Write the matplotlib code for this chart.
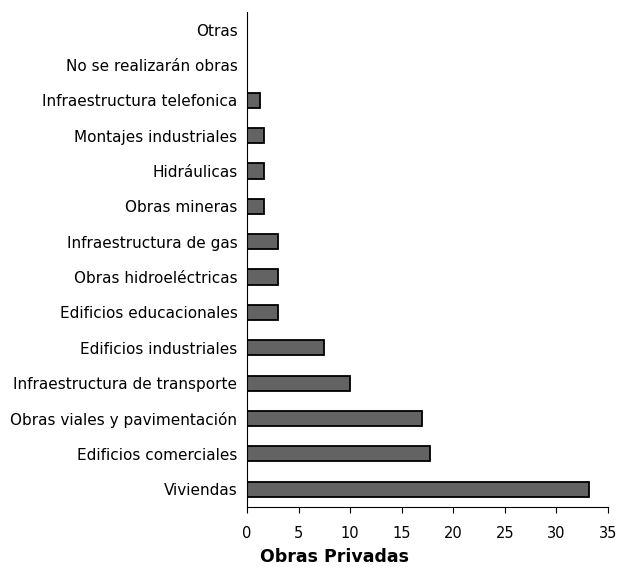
import numpy as np
import matplotlib.pyplot as plt

categorias = ["Viviendas", "Edificios comerciales", "Obras viales y pavimentación",
              "Infraestructura de transporte", "Edificios industriales",
              "Edificios educacionales", "Obras hidroeléctricas",
              "Infraestructura de gas", "Obras mineras", "Hidráulicas",
              "Montajes industriales", "Infraestructura telefonica",
              "No se realizarán obras", "Otras"]
valores = [33.2, 17.7, 17.0, 10.0, 7.5, 3.0, 3.0, 3.0, 1.6, 1.6, 1.6, 1.2, 0, 0]

plt.rcParams['font.family'] = ['DejaVu Sans']

fig = plt.figure(figsize=(6.21, 5.67), dpi=100)
ax = fig.add_axes([0.398, 0.106, 0.581, 0.873])

y = np.arange(len(categorias))
ax.barh(y, valores, height=0.43, color="#636363", edgecolor="black", linewidth=1.3)

ax.set_yticks(y)
ax.set_yticklabels(categorias, fontsize=11)
ax.tick_params(axis='y', length=0, pad=7)
ax.set_ylim(-0.5, len(categorias) - 0.5)

ax.set_xlim(0, 35)
ax.set_xticks(range(0, 36, 5))
ax.tick_params(axis='x', labelsize=10.5, length=4, width=0.8, pad=10)

# titulo del eje, desplazado a la izquierda como en el original
fig.text(0.538, 0.018, "Obras Privadas", fontsize=12.5, fontweight='bold',
         ha='center', va='center')

ax.spines['top'].set_visible(False)
ax.spines['right'].set_visible(False)
ax.spines['left'].set_linewidth(0.8)
ax.spines['bottom'].set_linewidth(0.8)

plt.savefig("out.png")
